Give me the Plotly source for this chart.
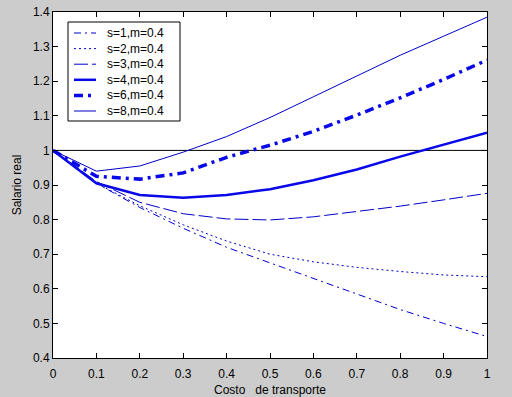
import plotly.graph_objects as go

x = [0, 0.1, 0.2, 0.3, 0.4, 0.5, 0.6, 0.7, 0.8, 0.9, 1.0]
s1 = [1.0, 0.905, 0.835, 0.775, 0.72, 0.675, 0.63, 0.583, 0.54, 0.50, 0.462]
s2 = [1.0, 0.905, 0.84, 0.785, 0.738, 0.70, 0.678, 0.662, 0.65, 0.64, 0.635]
s3 = [1.0, 0.91, 0.85, 0.817, 0.802, 0.799, 0.808, 0.823, 0.839, 0.857, 0.876]
s4 = [1.0, 0.905, 0.871, 0.863, 0.871, 0.888, 0.914, 0.945, 0.982, 1.016, 1.051]
s6 = [1.0, 0.925, 0.917, 0.935, 0.98, 1.015, 1.055, 1.102, 1.152, 1.205, 1.261]
s8 = [1.0, 0.94, 0.955, 0.995, 1.04, 1.095, 1.155, 1.215, 1.275, 1.33, 1.385]
names = ["s=1,m=0.4", "s=2,m=0.4", "s=3,m=0.4", "s=4,m=0.4", "s=6,m=0.4", "s=8,m=0.4"]
ref_x = [0, 1]
ref_y = [1, 1]
xticks = [0, 0.1, 0.2, 0.3, 0.4, 0.5, 0.6, 0.7, 0.8, 0.9, 1]
yticks = [0.4, 0.5, 0.6, 0.7, 0.8, 0.9, 1, 1.1, 1.2, 1.3, 1.4]

W, H = 512, 397
L, R, T, B = 53, 25, 12, 39

thin = "#0000c8"
thick = "#0808e8"
styles = [
    dict(color=thin, width=1, dash="7px,4px,2px,4px"),
    dict(color=thin, width=1, dash="2px,3px"),
    dict(color=thin, width=1, dash="14px,4px"),
    dict(color=thick, width=2.5, dash="solid"),
    dict(color=thick, width=3.5, dash="9px,5px,3px,5px"),
    dict(color=thin, width=1, dash="solid"),
]

fig = go.Figure()
fig.add_trace(go.Scatter(x=ref_x, y=ref_y, mode="lines", line=dict(color="black", width=1),
                         showlegend=False, hoverinfo="skip"))
for ys, nm, st in zip([s1, s2, s3, s4, s6, s8], names, styles):
    fig.add_trace(go.Scatter(x=x, y=ys, mode="lines", name=nm, line=st, showlegend=False))

# manual legend box (pixel geometry converted to paper coords)
pw, ph = W - L - R, H - T - B
def px(v):
    return (v - L) / pw
def py(v):
    return (H - B - v) / ph

shapes = [dict(type="rect", xref="paper", yref="paper", x0=px(68), x1=px(180), y0=py(121), y1=py(22),
               line=dict(color="black", width=1), fillcolor="white", layer="above")]
annotations = []
for i, (nm, st) in enumerate(zip(names, styles)):
    yc = 33 + 15.6 * i
    shapes.append(dict(type="line", xref="paper", yref="paper", x0=px(74), x1=px(96),
                       y0=py(yc), y1=py(yc), line=st, layer="above"))
    annotations.append(dict(xref="paper", yref="paper", x=px(105), y=py(yc), text=nm,
                            showarrow=False, xanchor="left", yanchor="middle",
                            font=dict(size=12, color="black")))

axis_common = dict(showline=True, linecolor="black", linewidth=1, mirror="allticks",
                   ticks="inside", ticklen=5, tickcolor="black", showgrid=False,
                   zeroline=False, automargin=False, tickfont=dict(size=12, color="black"))
fig.update_xaxes(range=[0, 1], tickvals=xticks, ticktext=[f"{v:g}" for v in xticks],
                 ticklabelstandoff=5,
                 title=dict(text="Costo\u00a0\u00a0 de transporte", font=dict(size=12, color="black"), standoff=8),
                 **axis_common)
fig.update_yaxes(range=[0.4, 1.4], tickvals=yticks, ticktext=[f"{v:g}" for v in yticks],
                 title=dict(text="Salario real", font=dict(size=12, color="black"), standoff=8),
                 **axis_common)
fig.update_layout(
    width=W, height=H,
    margin=dict(l=L, r=R, t=T, b=B, autoexpand=False),
    paper_bgcolor="rgb(204,204,204)", plot_bgcolor="white",
    font=dict(family="Liberation Sans, Arial, sans-serif", size=12, color="black"),
    showlegend=False,
    shapes=shapes, annotations=annotations,
)
fig.write_html("out.html", config={"displayModeBar": False},
               post_script="document.body.style.margin='0px';document.body.style.overflow='hidden';")
